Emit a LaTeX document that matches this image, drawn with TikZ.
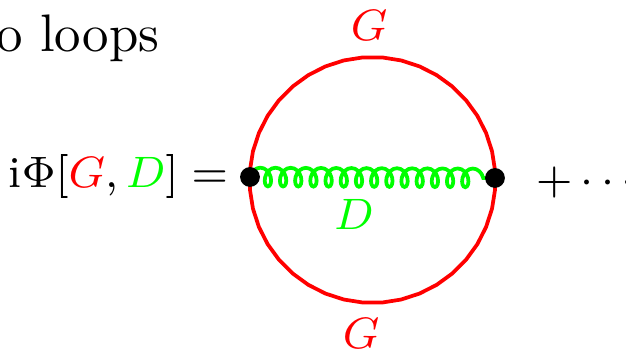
\documentclass[tikz,border=0pt]{standalone}
\usepackage{amsmath,amssymb}
\usepackage{xcolor}
\usetikzlibrary{decorations.pathmorphing,shapes.geometric}
\definecolor{prop}{HTML}{FF0000}
\definecolor{gluon}{HTML}{00FF00}
\tikzset{
  vertex/.style={circle,fill=black,inner sep=0pt,minimum size=3.6pt},
  loopline/.style={regular polygon,regular polygon sides=40,draw=prop,line width=0.68pt,inner sep=0pt,minimum size=44.7pt},
  coilline/.style={draw=gluon,line width=0.68pt,decorate,
    decoration={coil,aspect=0.7,amplitude=1.7pt,segment length=2.76pt,pre length=0pt,post length=0pt}},
  lab/.style={anchor=base,inner sep=0pt,font=\fontsize{8}{10}\selectfont},
  redlab/.style={lab,text=prop},
  greenlab/.style={lab,text=gluon}
}
\begin{document}
\begin{tikzpicture}[x=0.1818pt,y=-0.1818pt]
  \useasboundingbox (0,0) rectangle (626,353);
  \node[lab,anchor=base west,font=\fontsize{9.6}{11}\selectfont] (title) at (-5,52) {o loops};

  \node[loopline] (ring) at (372.5,180) {};
  \draw[coilline] (250,177) coordinate (cl) -- (495,178) coordinate (cr);
  \node[vertex] (left) at (cl) {};
  \node[vertex] (right) at (cr) {};

  \node[redlab] (gtop) at (369,41) {$G$};
  \node[redlab] (gbot) at (361,349) {$G$};
  \node[greenlab] (dlab) at (354,230) {$D$};

  \node[lab,anchor=base east] (lhs) at (229,188) {i$\Phi[\textcolor{prop}{G},\textcolor{gluon}{D}]=$};
  \node[lab,anchor=base west] (dots) at (535,194) {$+\cdots$};
\end{tikzpicture}
\end{document}
